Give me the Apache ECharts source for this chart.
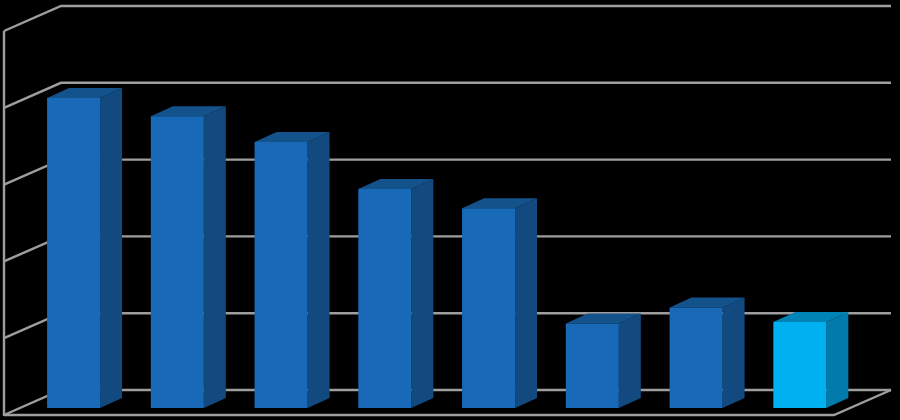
<!DOCTYPE html>
<html><head><meta charset="utf-8">
<style>html,body{margin:0;padding:0;background:#000}#c{width:900px;height:420px}</style>
<script src="https://cdn.jsdelivr.net/npm/echarts@6/dist/echarts.min.js"></script>
</head><body><div id="c"></div>
<script>
const categories = ['A','B','C','D','E','F','G','H'];
const values = [80.7, 76, 69.3, 57, 52, 22, 26.2, 22.4];
const gridTicks = [0, 20, 40, 60, 80, 100];
const highlightCategory = 'H';

const DEPTH = {x: 57, y: -25};
const BAR_FRONT = {x: 17.7, y: -7};
const BAR_DEPTH = {x: 22, y: -10};
const BAR_W = 53;
const LINE = '#9e9e9e';
const LINE_W = 2.4;
const BLUE = {front:'#186ab8', side:'#124a80', top:'#14528c'};
const CYAN = {front:'#00b0f0', side:'#007bab', top:'#0083b5'};

const chart = echarts.init(document.getElementById('c'), null, {renderer:'canvas'});

function renderWall(params, api){
  const v = api.value(0);
  const band = api.size([1,0])[0];
  const f = api.coord([categories[0], v]);
  const x0 = f[0] - band/2, y = f[1];
  const x1 = x0 + band*categories.length;
  const lineStyle = {stroke:LINE, lineWidth:LINE_W, fill:null};
  const wall = {type:'polyline',shape:{points:[[x0,y],[x0+DEPTH.x,y+DEPTH.y],[x1+DEPTH.x,y+DEPTH.y]]},style:lineStyle};
  if (v === gridTicks[0]) {
    return {type:'group',children:[
      wall,
      {type:'polyline',shape:{points:[[x0,y],[x1,y],[x1+DEPTH.x,y+DEPTH.y]]},style:lineStyle}
    ]};
  }
  return wall;
}

function renderAxis(params, api){
  const a = api.coord([categories[0], gridTicks[0]]);
  const b = api.coord([categories[0], gridTicks[gridTicks.length-1]]);
  const band = api.size([1,0])[0];
  const x = a[0]-band/2;
  return {type:'line',shape:{x1:x,y1:a[1]+1,x2:x,y2:b[1]},style:{stroke:LINE,lineWidth:LINE_W}};
}

function renderBar(params, api){
  const cat = categories[api.value(0)];
  const top = api.coord([cat, api.value(1)]);
  const base = api.coord([cat, 0]);
  const c = cat === highlightCategory ? CYAN : BLUE;
  const l = top[0]-BAR_W/2+BAR_FRONT.x, r = l+BAR_W;
  const t = top[1]+BAR_FRONT.y, b = base[1]+BAR_FRONT.y;
  const dx = BAR_DEPTH.x, dy = BAR_DEPTH.y;
  return {type:'group',children:[
    {type:'polygon',shape:{points:[[r,t],[r+dx,t+dy],[r+dx,b+dy],[r,b]]},style:{fill:c.side}},
    {type:'polygon',shape:{points:[[l,t],[l+dx,t+dy],[r+dx,t+dy],[r,t]]},style:{fill:c.top}},
    {type:'rect',shape:{x:l,y:t,width:BAR_W,height:b-t},style:{fill:c.front}}
  ]};
}

chart.setOption({
  animation:false,
  backgroundColor:'#000',
  grid:{left:4,top:31,width:830,height:384},
  xAxis:{type:'category',data:categories,show:false},
  yAxis:{type:'value',min:0,max:100,interval:20,show:false},
  series:[
    {type:'custom',renderItem:renderWall,data:gridTicks.map(v=>[v]),encode:{y:0},z:1,clip:false,silent:true},
    {type:'custom',renderItem:renderAxis,data:[[0]],z:1,clip:false,silent:true},
    {type:'custom',renderItem:renderBar,data:values.map((v,i)=>[i,v]),encode:{x:0,y:1},z:2,clip:false,silent:true}
  ]
});
</script></body></html>
